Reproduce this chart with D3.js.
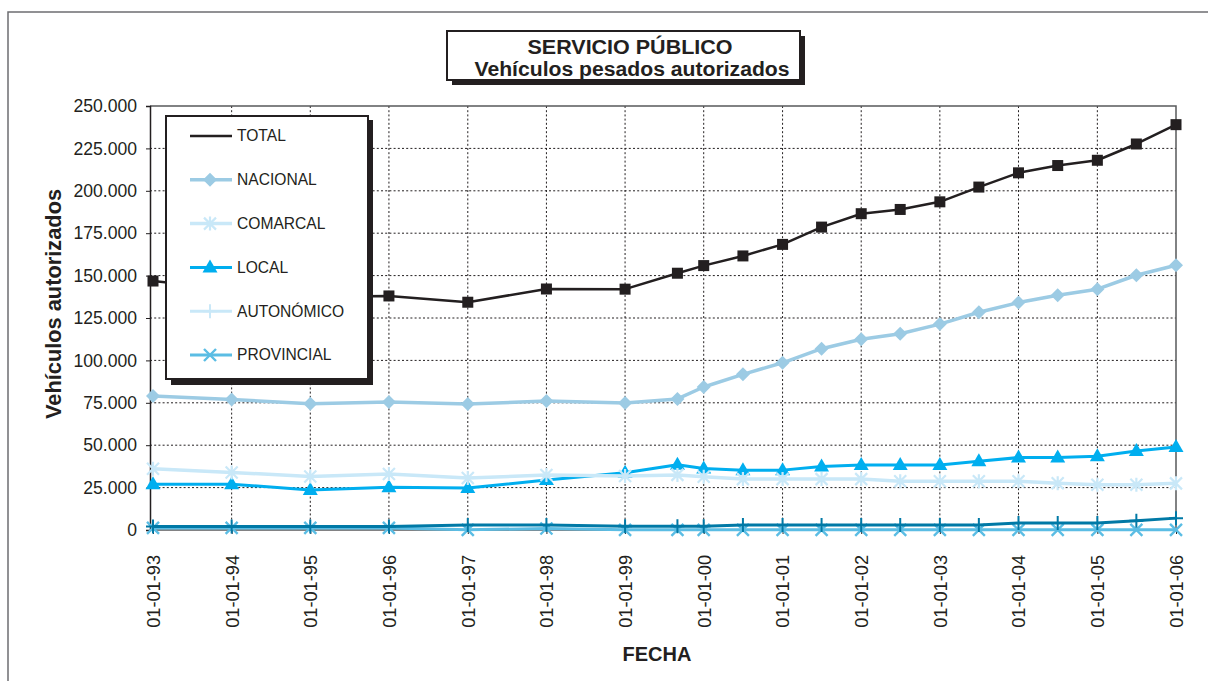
<!DOCTYPE html>
<html>
<head>
<meta charset="utf-8">
<script src="https://cdn.jsdelivr.net/npm/d3@7"></script>
<style>
  html, body { margin: 0; padding: 0; background: #fff; }
  svg { display: block; font-family: "Liberation Sans", Arial, Helvetica, sans-serif; }
</style>
</head>
<body>
<svg id="chart" width="1208" height="681"></svg>
<script>
// ---- data ----
const dates = ["1993-01-01","1994-01-01","1995-01-01","1996-01-01","1997-01-01","1998-01-01","1999-01-01",
  "1999-09-01","2000-01-01","2000-07-01","2001-01-01","2001-07-01","2002-01-01","2002-07-01",
  "2003-01-01","2003-07-01","2004-01-01","2004-07-01","2005-01-01","2005-07-01","2006-01-01"];
const tickDates = ["1993-01-01","1994-01-01","1995-01-01","1996-01-01","1997-01-01","1998-01-01","1999-01-01",
  "2000-01-01","2001-01-01","2002-01-01","2003-01-01","2004-01-01","2005-01-01","2006-01-01"];
const tickLabels = ["01-01-93","01-01-94","01-01-95","01-01-96","01-01-97","01-01-98","01-01-99",
  "01-01-00","01-01-01","01-01-02","01-01-03","01-01-04","01-01-05","01-01-06"];
const yTicks = [0,25000,50000,75000,100000,125000,150000,175000,200000,225000,250000];

const total      = [146800,142000,137500,138000,134300,142100,142000,151400,155900,161600,168400,178600,186500,189000,193500,202200,210600,214900,218000,227600,239000];
const nacional   = [79000,76900,74500,75500,74300,76000,74900,77300,84300,91800,98600,106900,112500,115700,121400,128400,134100,138400,142000,150200,156100];
const comarcal   = [36100,33900,31600,33000,30700,32400,31800,32500,31400,30000,30000,30000,30000,28800,28800,28800,28800,27600,26700,26700,27500];
const local      = [27000,27000,23600,25200,24700,29500,33700,38500,36300,35300,35300,37400,38300,38300,38300,40500,42700,42700,43500,46600,48900];
const autonomico = [2100,2100,2100,2100,3000,3000,2200,2200,2200,3000,3000,3000,3000,3000,3000,3000,4100,4100,4200,5400,7000];
const provincial = [1200,1200,1200,1200,100,900,100,100,100,100,100,100,100,100,100,100,100,100,100,100,100];

const seriesNames = ["TOTAL","NACIONAL","COMARCAL","LOCAL","AUTONÓMICO","PROVINCIAL"];

// ---- styles ----
const series = [
  {name:"TOTAL",      values: total,      color:"#231f20", legendColor:"#231f20", marker:"square",   legendMarker:false, width:2.5},
  {name:"NACIONAL",   values: nacional,   color:"#9ccbe4", legendColor:"#9ccbe4", marker:"diamond",  legendMarker:true,  width:3.5},
  {name:"COMARCAL",   values: comarcal,   color:"#c9e8f8", legendColor:"#c9e8f8", marker:"asterisk", legendMarker:true,  width:3.5},
  {name:"LOCAL",      values: local,      color:"#00aeef", legendColor:"#00aeef", marker:"triangle", legendMarker:true,  width:3},
  {name:"AUTONÓMICO", values: autonomico, color:"#0079a6", legendColor:"#c9e8f8", marker:"plus",     legendMarker:true,  width:3},
  {name:"PROVINCIAL", values: provincial, color:"#5bbde4", legendColor:"#5bbde4", marker:"x",        legendMarker:true,  width:3}
];

const svg = d3.select("#chart");
const textColor = "#231f20";
const parse = d3.timeParse("%Y-%m-%d");

const plotL = 150, plotR = 1176, plotT = 106, plotB = 530;
const x = d3.scaleTime().domain([parse("1993-01-01"), parse("2006-01-01")]).range([153, plotR]);
const y = d3.scaleLinear().domain([0, 250000]).range([plotB, plotT]);

// outer frame
svg.append("path").attr("d", `M8,681 L8,12 L1208,12`).attr("fill","none").attr("stroke","#6d6e71").attr("stroke-width",1.5);

// grid
const grid = svg.append("g");
yTicks.filter(v => v > 0 && v < 250000).forEach(v => {
  grid.append("line").attr("x1", plotL).attr("x2", plotR).attr("y1", y(v)).attr("y2", y(v))
    .attr("stroke", textColor).attr("stroke-width", 1).attr("stroke-dasharray", "2,2.2");
});
tickDates.slice(1, -1).forEach(d => {
  grid.append("line").attr("x1", x(parse(d))).attr("x2", x(parse(d))).attr("y1", plotT).attr("y2", plotB)
    .attr("stroke", textColor).attr("stroke-width", 1).attr("stroke-dasharray", "2,2.2");
});
// frame of plot area top/right
svg.append("path").attr("d", `M${plotL},${plotT} L${plotR},${plotT} L${plotR},${plotB}`)
  .attr("fill","none").attr("stroke","#58595b").attr("stroke-width",1.5);

// y axis
const yAxis = d3.axisLeft(y).tickValues(yTicks).tickSize(4).tickPadding(9)
  .tickFormat(v => v === 0 ? "0" : d3.format(",")(v).replace(/,/g, "."));
const gy = svg.append("g").attr("transform", `translate(${plotL},0)`).call(yAxis);
gy.select(".domain").attr("stroke", "#231f20").attr("stroke-width", 1.5);
gy.selectAll(".tick line").attr("stroke", "#231f20");
gy.selectAll("text").attr("fill", textColor).style("font-size", "17.6px");

// x axis
const xAxis = d3.axisBottom(x).tickValues(tickDates.map(parse)).tickSize(4).tickPadding(6)
  .tickFormat((d, i) => tickLabels[i]);
const gx = svg.append("g").attr("transform", `translate(0,${plotB})`).call(xAxis);
gx.select(".domain").attr("d", `M${plotL},0H${plotR}`).attr("stroke", "#58595b").attr("stroke-width", 1.5);
gx.selectAll(".tick line").attr("stroke", "#231f20");
gx.selectAll("text").attr("fill", textColor).style("font-size", "18.2px")
  .attr("transform", "rotate(-90)").attr("text-anchor", "end").attr("x", -25).attr("y", 0).attr("dy", "0.35em");

// axis titles
svg.append("text").attr("transform", "translate(61,304) rotate(-90)").attr("text-anchor", "middle")
  .attr("font-weight", "bold").style("font-size", "21.8px").attr("fill", textColor)
  .text("Vehículos autorizados");
svg.append("text").attr("x", 657).attr("y", 661).attr("text-anchor", "middle")
  .attr("font-weight", "bold").style("font-size", "20px").attr("fill", textColor).text("FECHA");

// markers
function drawMarker(g, type, cx, cy, color) {
  if (type === "square") {
    g.append("rect").attr("x", cx - 5.5).attr("y", cy - 5.5).attr("width", 11).attr("height", 11).attr("fill", color);
  } else if (type === "diamond") {
    g.append("path").attr("d", `M${cx},${cy-7}L${cx+7},${cy}L${cx},${cy+7}L${cx-7},${cy}Z`).attr("fill", color);
  } else if (type === "triangle") {
    g.append("path").attr("d", `M${cx},${cy-8}L${cx+7.5},${cy+5}L${cx-7.5},${cy+5}Z`).attr("fill", color);
  } else if (type === "asterisk") {
    const s = 6;
    g.append("path").attr("d", `M${cx},${cy-s-1}V${cy+s+1}M${cx-s},${cy-s}L${cx+s},${cy+s}M${cx-s},${cy+s}L${cx+s},${cy-s}`)
      .attr("stroke", color).attr("stroke-width", 2.2).attr("fill", "none");
  } else if (type === "plus") {
    const s = 7;
    g.append("path").attr("d", `M${cx},${cy-s}V${cy+s}M${cx-s},${cy}H${cx+s}`)
      .attr("stroke", color).attr("stroke-width", 2).attr("fill", "none");
  } else if (type === "x") {
    const s = 6;
    g.append("path").attr("d", `M${cx-s},${cy-s}L${cx+s},${cy+s}M${cx-s},${cy+s}L${cx+s},${cy-s}`)
      .attr("stroke", color).attr("stroke-width", 2.4).attr("fill", "none");
  }
}

// series: draw in reverse order so TOTAL is on top
const line = d3.line().x(d => x(d.date)).y(d => y(d.value));
const plot = svg.append("g");
series.slice().reverse().forEach(s => {
  const pts = s.values.map((v, i) => ({date: parse(dates[i]), value: v}));
  const g = plot.append("g");
  g.append("path").datum(pts).attr("d", line).attr("fill", "none")
    .attr("stroke", s.color).attr("stroke-width", s.width).attr("stroke-linejoin", "round");
  pts.forEach(p => drawMarker(g, s.marker, x(p.date), y(p.value), s.color));
});

// title box
const tb = svg.append("g");
tb.append("rect").attr("x", 452).attr("y", 36).attr("width", 353).attr("height", 49).attr("fill", "#231f20");
tb.append("rect").attr("x", 447).attr("y", 31).attr("width", 353).attr("height", 49)
  .attr("fill", "#fff").attr("stroke", "#231f20").attr("stroke-width", 2);
tb.append("text").attr("x", 630).attr("y", 54).attr("text-anchor", "middle").attr("font-weight", "bold")
  .style("font-size", "19.5px").attr("fill", textColor)
  .attr("textLength", 205).attr("lengthAdjust", "spacingAndGlyphs").text("SERVICIO PÚBLICO");
tb.append("text").attr("x", 632).attr("y", 76).attr("text-anchor", "middle").attr("font-weight", "bold")
  .style("font-size", "19.5px").attr("fill", textColor)
  .attr("textLength", 315).attr("lengthAdjust", "spacingAndGlyphs").text("Vehículos pesados autorizados");

// legend
const lg = svg.append("g");
lg.append("rect").attr("x", 171).attr("y", 120).attr("width", 202).attr("height", 265).attr("fill", "#231f20");
lg.append("rect").attr("x", 166).attr("y", 116).attr("width", 202).attr("height", 263)
  .attr("fill", "#fff").attr("stroke", "#231f20").attr("stroke-width", 2);
const legendY = d3.scalePoint().domain(seriesNames).range([136, 355]);
series.forEach(s => {
  const ly = legendY(s.name);
  lg.append("line").attr("x1", 190).attr("x2", 232).attr("y1", ly).attr("y2", ly)
    .attr("stroke", s.legendColor).attr("stroke-width", s.width);
  if (s.legendMarker) drawMarker(lg, s.marker, 210, ly, s.legendColor);
  lg.append("text").attr("x", 237).attr("y", ly).attr("dy", "0.35em").style("font-size", "15.6px")
    .attr("fill", textColor).text(s.name);
});
</script>
</body>
</html>
